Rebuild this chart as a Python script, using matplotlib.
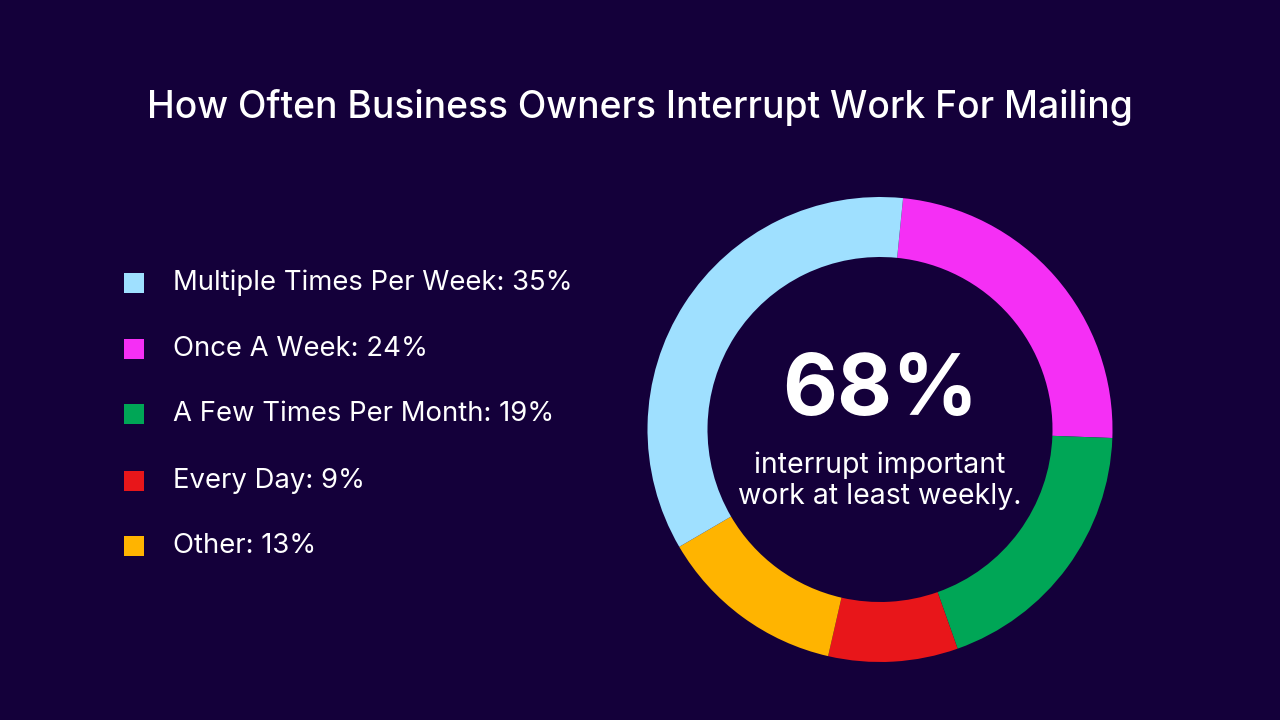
import matplotlib
matplotlib.use("Agg")
import matplotlib.pyplot as plt
from matplotlib.patches import Rectangle

labels = ["Once A Week", "A Few Times Per Month", "Every Day", "Other", "Multiple Times Per Week"]
values = [24, 19, 9, 13, 35]
colors = ["#f52ff5", "#00a656", "#e8161a", "#ffb400", "#9fe0ff"]
legend_order = [4, 0, 1, 2, 3]

bg = "#14003a"
plt.rcParams['font.family'] = ['Inter', 'DejaVu Sans']
fig = plt.figure(figsize=(12.8, 7.2), dpi=100, facecolor=bg)

W, H = 1280, 720
cx, cy, r = 880, 429.5, 232.5
ax = fig.add_axes([(cx - r) / W, (H - cy - r) / H, 2 * r / W, 2 * r / H])
ax.set_facecolor(bg)
ax.pie(values, colors=colors, startangle=84.3, counterclock=False, radius=1,
       wedgeprops=dict(width=60 / 232.5, linewidth=0))
ax.set_aspect('equal')
ax.set_xlim(-1, 1); ax.set_ylim(-1, 1)
ax.axis('off')
ax.text(0, 0.157, "68%", ha='center', va='center', color='white', fontsize=61, fontweight='bold')
ax.text(0, -0.22, "interrupt important\nwork at least weekly.", ha='center', va='center',
        color='white', fontsize=20.5, linespacing=1.22)

fig.text(640 / W, 1 - 108 / H, "How Often Business Owners Interrupt Work For Mailing",
         ha='center', va='center', color='white', fontsize=26.8, fontweight='medium')

ys = [283, 349, 414, 481, 546]
for y, i in zip(ys, legend_order):
    fig.patches.append(Rectangle((124 / W, 1 - (y + 10) / H), 20 / W, 20 / H,
                                 transform=fig.transFigure, facecolor=colors[i], edgecolor='none'))
    fig.text(173 / W, 1 - y / H, f"{labels[i]}: {values[i]}%", ha='left', va='center',
             color='white', fontsize=19.8)

fig.savefig("out.png", dpi=100, facecolor=bg)
